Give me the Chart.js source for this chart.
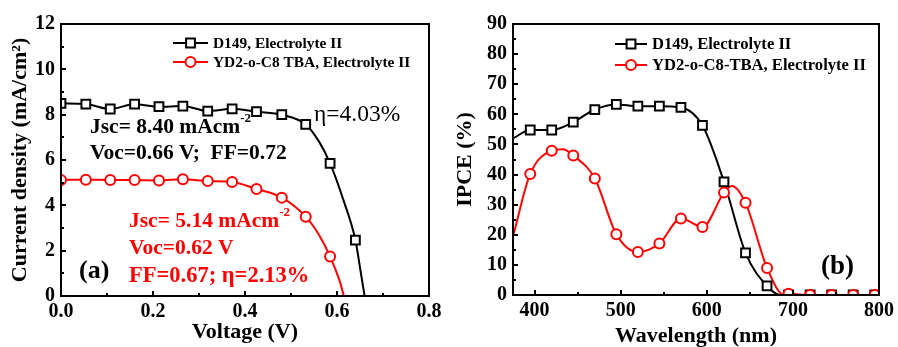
<!DOCTYPE html>
<html>
<head>
<meta charset="utf-8">
<script src="https://cdn.jsdelivr.net/npm/chart.js@4"></script>
<style>
  body { margin: 0; background: #fff; width: 898px; height: 347px; overflow: hidden; }
  #wrap { position: relative; width: 898px; height: 347px; }
  canvas { position: absolute; top: 0; }
</style>
</head>
<body>
<div id="wrap">
  <canvas id="jv" width="450" height="347" style="left:0"></canvas>
  <canvas id="ipce" width="448" height="347" style="left:450px"></canvas>
</div>
<script>
// ---- (a) J-V curves: marker points ----
const jvVoltage = [0, 0.054, 0.107, 0.160, 0.213, 0.265, 0.319, 0.372, 0.425, 0.480, 0.532, 0.585, 0.640];
const jvD149 = [8.50, 8.47, 8.25, 8.46, 8.35, 8.38, 8.16, 8.26, 8.13, 8.00, 7.57, 5.85, 2.47];
const jvYD2 = [5.12, 5.13, 5.12, 5.12, 5.10, 5.15, 5.07, 5.03, 4.72, 4.34, 3.50, 1.74];
// extra points on the curves between / after the markers
const jvD149CurveV = [0.561, 0.614, 0.652, 0.660];
const jvD149CurveJ = [6.81, 4.23, 1.00, 0];
const jvYD2CurveV = [0.561, 0.605, 0.615];
const jvYD2CurveJ = [2.69, 0.71, 0];
const jvXTicks = [0, 0.2, 0.4, 0.6, 0.8];
const jvYTicks = [0, 2, 4, 6, 8, 10, 12];

// ---- (b) IPCE spectra ----
const wavelength = [395, 420, 445, 470, 495, 520, 545, 570, 595, 620, 645, 670, 695, 720, 745, 770, 795];
const ipceD149 = [54.8, 54.8, 57.4, 61.6, 63.3, 62.7, 62.7, 62.3, 56.3, 37.6, 14.0, 3.0, 0, 0, 0, 0, 0];
const ipceYD2 = [40.2, 47.9, 46.3, 38.7, 20.2, 14.3, 17.1, 25.4, 22.6, 34.0, 30.6, 9.0, 0.4, 0, 0, 0, 0];
const ipceD149CurveWl = [375, 686];
const ipceD149CurveY = [52.0, 0];
const ipceYD2CurveWl = [375, 433, 629, 690];
const ipceYD2CurveY = [19.5, 48.4, 36.2, 0];
const ipceXTicks = [400, 500, 600, 700, 800];
const ipceYTicks = [0, 10, 20, 30, 40, 50, 60, 70, 80, 90];

const RED = 'rgb(255,0,0)';
const FONT = '"Liberation Serif", "Times New Roman", serif';

function pts(xs, ys) { return xs.slice(0, ys.length).map((v, i) => ({ x: v, y: ys[i] })); }
function curve(xs, ys, exX, exY) {
  return pts(xs, ys).concat(pts(exX, exY)).sort((a, b) => a.x - b.x);
}

function lineSet(data, color) {
  return { data, showLine: true, borderColor: color, borderWidth: 2, pointRadius: 0,
           cubicInterpolationMode: 'monotone', order: 2 };
}
function markerSet(data, color, style, order) {
  return { data, showLine: false, pointStyle: style, pointRadius: style === 'rect' ? 6.2 : 5,
           pointBorderWidth: 2, pointBorderColor: color, pointBackgroundColor: '#fff', order };
}

function drawRich(ctx, parts, x, y, color, size, weight) {
  ctx.fillStyle = color;
  ctx.textBaseline = 'middle';
  ctx.textAlign = 'left';
  for (const p of parts) {
    const fs = p.sup ? Math.round(size * 0.62) : size;
    ctx.font = `${weight} ${fs}px ${FONT}`;
    ctx.fillText(p.t, x, p.sup ? y - size * 0.38 : y);
    x += ctx.measureText(p.t).width;
  }
}

function drawMarker(ctx, style, x, y, color) {
  ctx.save();
  ctx.lineWidth = 2;
  ctx.strokeStyle = color;
  ctx.fillStyle = '#fff';
  ctx.beginPath();
  if (style === 'rect') ctx.rect(x - 4.4, y - 4.4, 8.8, 8.8);
  else ctx.arc(x, y, 5, 0, Math.PI * 2);
  ctx.fill();
  ctx.stroke();
  ctx.restore();
}

// frame, inward major/minor ticks, legend and notes
function framePlugin(opts) {
  return {
    id: 'frame',
    afterDatasetsDraw(chart) {
      const { ctx, chartArea: a, scales: { x, y } } = chart;
      ctx.save();
      ctx.strokeStyle = '#000';
      ctx.lineWidth = 2;
      ctx.strokeRect(a.left, a.top, a.right - a.left, a.bottom - a.top);
      ctx.beginPath();
      for (let v = opts.xStart; v <= x.max + 1e-9; v += opts.xMinor) {
        const px = Math.round(x.getPixelForValue(v));
        const major = opts.xTicks.some(t => Math.abs(t - v) < 1e-6);
        ctx.moveTo(px, a.bottom);
        ctx.lineTo(px, a.bottom - (major ? 5 : 3));
      }
      for (let v = 0; v <= y.max + 1e-9; v += opts.yMinor) {
        const py = Math.round(y.getPixelForValue(v));
        const major = opts.yTicks.some(t => Math.abs(t - v) < 1e-6);
        ctx.moveTo(a.left, py);
        ctx.lineTo(a.left + (major ? 5 : 3), py);
      }
      ctx.stroke();

      // legend
      opts.legend.forEach((it, i) => {
        const ly = opts.legendY[i];
        ctx.strokeStyle = it.color;
        ctx.lineWidth = 2;
        ctx.beginPath();
        ctx.moveTo(opts.legendX, ly);
        ctx.lineTo(opts.legendX + opts.legendLen, ly);
        ctx.stroke();
        drawMarker(ctx, it.style, opts.legendX + opts.legendLen / 2, ly, it.color);
        drawRich(ctx, [{ t: it.text }], opts.legendX + opts.legendLen + 5, ly + 1, '#000', opts.legendSize, 'bold');
      });

      opts.notes.forEach(n => drawRich(ctx, n.parts, n.x, n.y, n.color, n.size, n.weight));
      ctx.restore();
    }
  };
}

function axis(min, max, ticks, fmt, title, w, h, tpad) {
  return {
    type: 'linear', min, max,
    grid: { display: false, drawTicks: false },
    border: { display: false },
    afterBuildTicks: s => { s.ticks = ticks.map(v => ({ value: v })); },
    afterFit: s => { if (w) s.width = w; if (h) s.height = h; },
    ticks: { color: '#000', padding: w ? 6 : 4, font: { family: FONT, size: 20, weight: 'bold' },
             callback: fmt, maxRotation: 0, autoSkip: false },
    title: { display: true, text: title, color: '#000', padding: tpad,
             font: { family: FONT, size: 22, weight: 'bold', lineHeight: 1 } }
  };
}

// ---- chart (a) ----
new Chart(document.getElementById('jv'), {
  type: 'scatter',
  data: {
    datasets: [
      markerSet(pts(jvVoltage, jvYD2), RED, 'circle', 0),
      lineSet(curve(jvVoltage, jvYD2, jvYD2CurveV, jvYD2CurveJ), RED),
      markerSet(pts(jvVoltage, jvD149), '#000', 'rect', 1),
      lineSet(curve(jvVoltage, jvD149, jvD149CurveV, jvD149CurveJ), '#000')
    ]
  },
  options: {
    responsive: false, animation: false, devicePixelRatio: 1,
    layout: { padding: { top: 24, right: 21, left: 0, bottom: 0 } },
    plugins: { legend: { display: false }, tooltip: { enabled: false } },
    scales: {
      x: axis(0, 0.8, jvXTicks, v => v.toFixed(1), 'Voltage (V)', 0, 51, { bottom: 4 }),
      y: axis(0, 12, jvYTicks, v => String(v), 'Current density (mA/cm²)', 61, 0, { top: 9 })
    }
  },
  plugins: [framePlugin({
    xStart: 0, xMinor: 0.1, xTicks: jvXTicks, yMinor: 1, yTicks: jvYTicks,
    legendX: 173, legendLen: 35, legendY: [43, 62], legendSize: 15.4,
    legend: [
      { text: 'D149, Electrolyte II', color: '#000', style: 'rect' },
      { text: 'YD2-o-C8 TBA, Electrolyte II', color: RED, style: 'circle' }
    ],
    notes: [
      { parts: [{ t: 'Jsc= 8.40 mAcm' }, { t: '-2', sup: true }], x: 90, y: 127, color: '#000', size: 21.5, weight: 'bold' },
      { parts: [{ t: 'Voc=0.66 V;  FF=0.72' }], x: 90, y: 153, color: '#000', size: 21.5, weight: 'bold' },
      { parts: [{ t: 'η=4.03%' }], x: 314, y: 115, color: '#000', size: 23.5, weight: 'normal' },
      { parts: [{ t: 'Jsc= 5.14 mAcm' }, { t: '-2', sup: true }], x: 129, y: 221, color: RED, size: 21.5, weight: 'bold' },
      { parts: [{ t: 'Voc=0.62 V' }], x: 129, y: 248, color: RED, size: 21.5, weight: 'bold' },
      { parts: [{ t: 'FF=0.67; η=2.13%' }], x: 129, y: 276, color: RED, size: 22.5, weight: 'bold' },
      { parts: [{ t: '(a)' }], x: 79, y: 271, color: '#000', size: 26, weight: 'bold' }
    ]
  })]
});

// ---- chart (b) ----
new Chart(document.getElementById('ipce'), {
  type: 'scatter',
  data: {
    datasets: [
      markerSet(pts(wavelength, ipceYD2), RED, 'circle', 0),
      lineSet(curve(wavelength, ipceYD2, ipceYD2CurveWl, ipceYD2CurveY), RED),
      markerSet(pts(wavelength, ipceD149), '#000', 'rect', 1),
      lineSet(curve(wavelength, ipceD149, ipceD149CurveWl, ipceD149CurveY), '#000')
    ]
  },
  options: {
    responsive: false, animation: false, devicePixelRatio: 1,
    layout: { padding: { top: 24, right: 16, left: 0, bottom: 0 } },
    plugins: { legend: { display: false }, tooltip: { enabled: false } },
    scales: {
      x: axis(375, 800, ipceXTicks, v => String(v), 'Wavelength (nm)', 0, 52, { bottom: 0 }),
      y: axis(0, 90, ipceYTicks, v => String(v), 'IPCE (%)', 63, 0, { top: 4 })
    }
  },
  plugins: [framePlugin({
    xStart: 400, xMinor: 50, xTicks: ipceXTicks, yMinor: 5, yTicks: ipceYTicks,
    legendX: 165, legendLen: 32, legendY: [44, 65], legendSize: 16.6,
    legend: [
      { text: 'D149, Electrolyte II', color: '#000', style: 'rect' },
      { text: 'YD2-o-C8-TBA, Electrolyte II', color: RED, style: 'circle' }
    ],
    notes: [
      { parts: [{ t: '(b)' }], x: 371, y: 267, color: '#000', size: 27, weight: 'bold' }
    ]
  })]
});
</script>
</body>
</html>
